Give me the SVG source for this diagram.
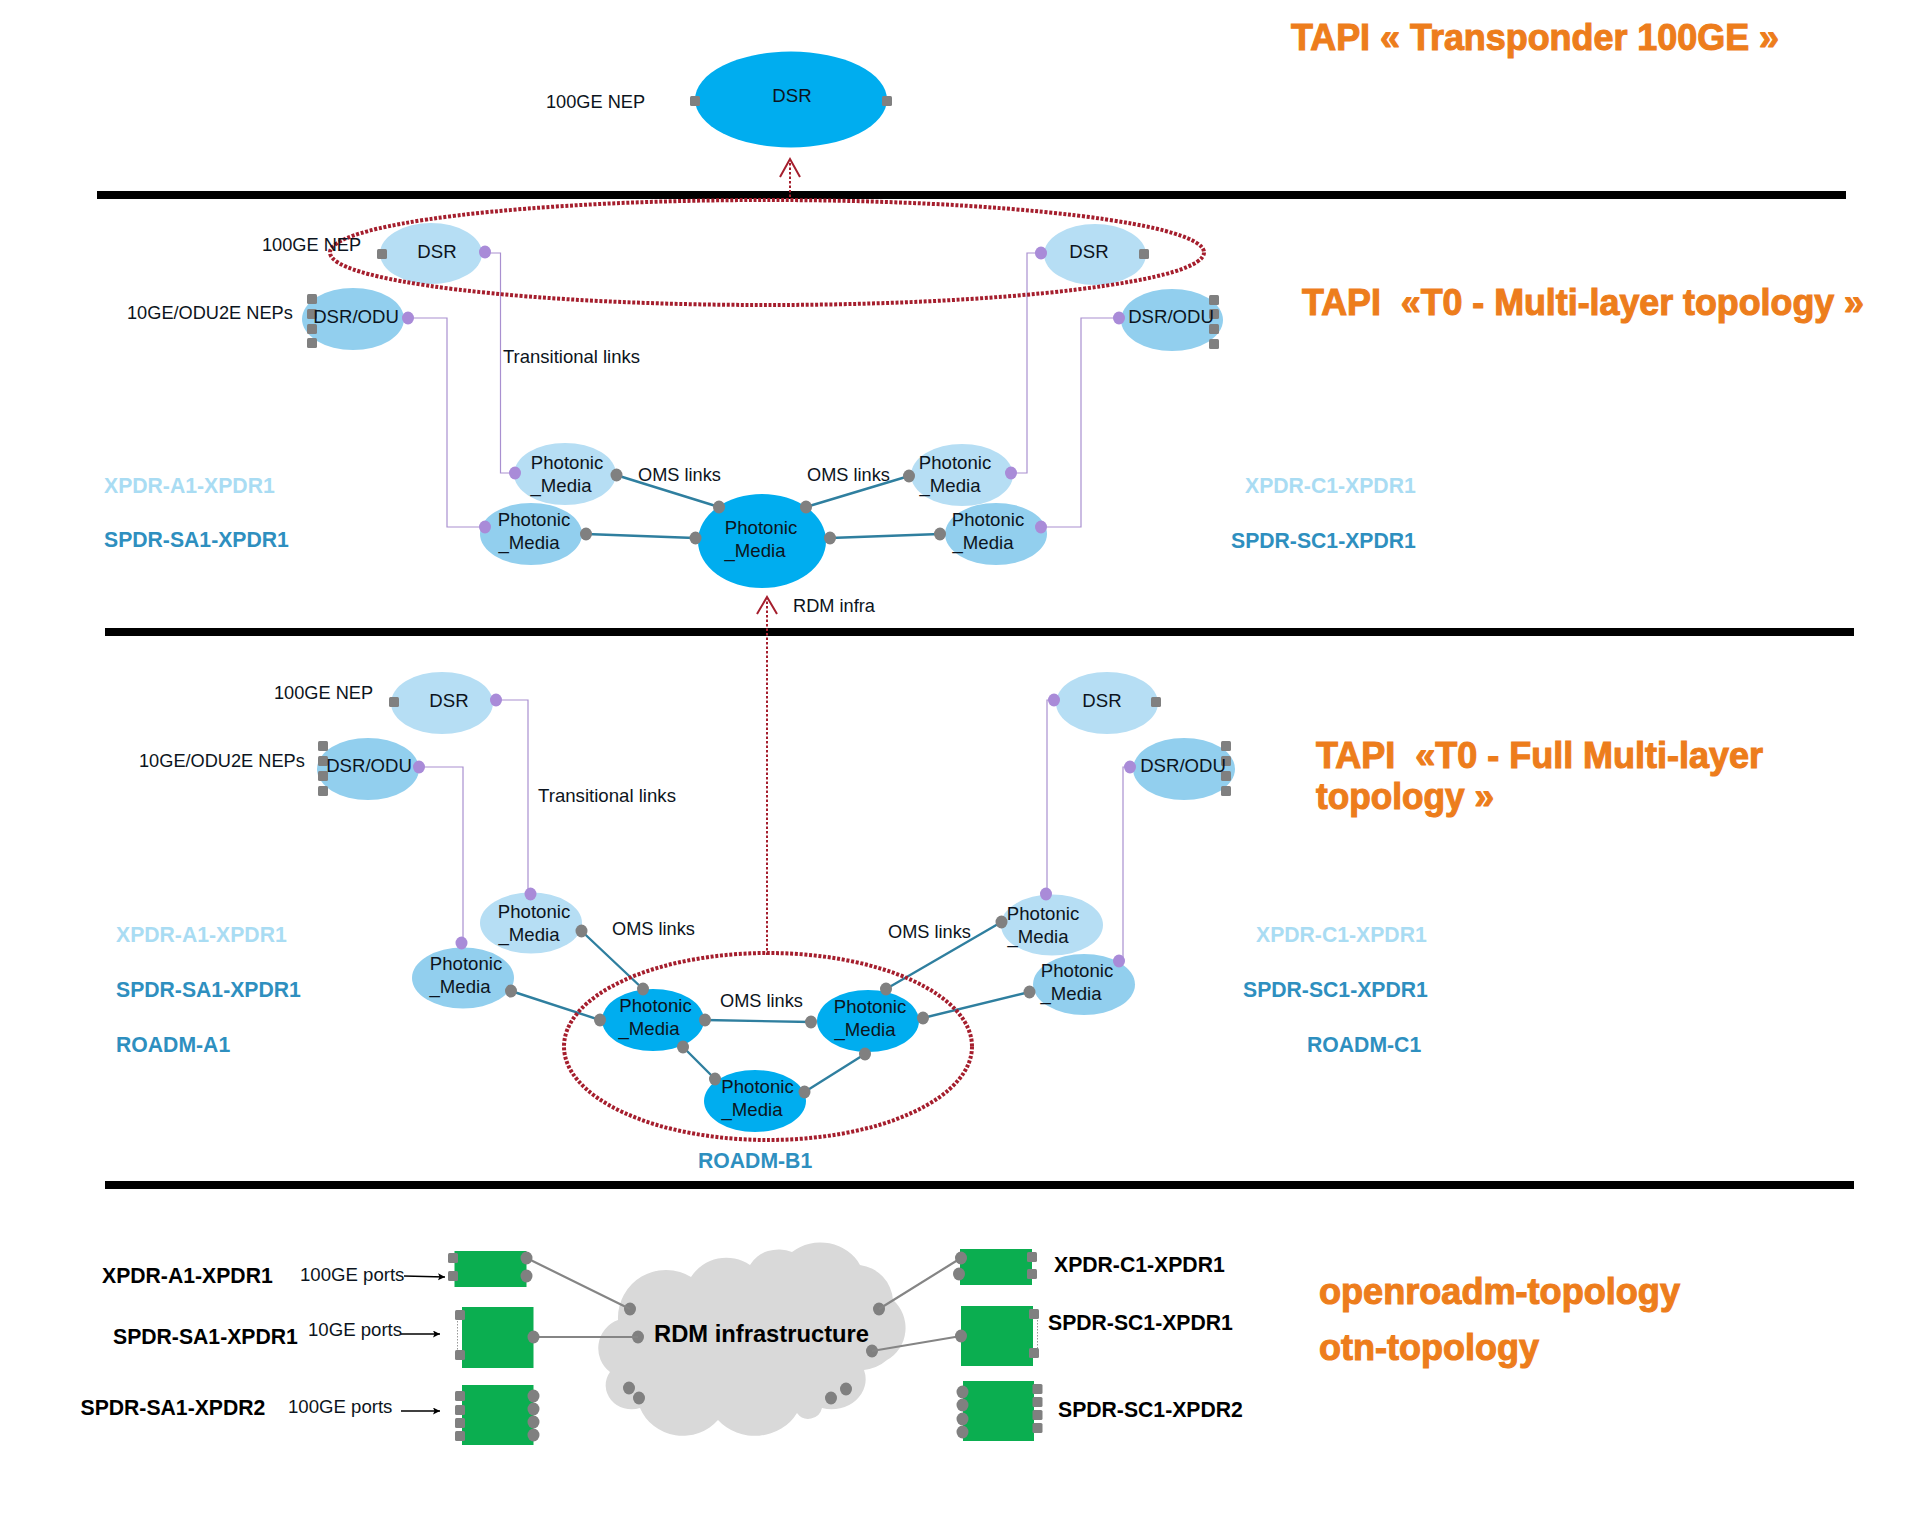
<svg xmlns="http://www.w3.org/2000/svg" width="1920" height="1518" viewBox="0 0 1920 1518">
<style>
text{font-family:"Liberation Sans",Arial,sans-serif;font-size:18.2px;fill:#0c1420}
.m{text-anchor:middle;font-size:18.600px}
.p{font-size:18.600px}
.t{font-weight:bold;font-size:36px;fill:#ED7D1C;stroke:#ED7D1C;stroke-width:1.1}
.lt{font-weight:bold;font-size:21.200px;fill:#A9DCF3}
.db{font-weight:bold;font-size:21.200px;fill:#2E8FBF}
.bk{font-weight:bold;font-size:21.200px;fill:#000}
.sep{stroke:#000;stroke-width:8;fill:none}
.dot{fill:none;stroke:#A51E2D;stroke-width:4;stroke-dasharray:3 1.700}
.up{fill:none;stroke:#A51E2D;stroke-width:2;stroke-dasharray:2.500 2}
.ah{fill:none;stroke:#A51E2D;stroke-width:2}
.tr{fill:none;stroke:#A990D0;stroke-width:1.200}
.oms{fill:none;stroke:#2F7F9F;stroke-width:2.400}
.g{fill:none;stroke:#858585;stroke-width:2.200}
.ar{fill:none;stroke:#000;stroke-width:1.300}
.th{fill:none;stroke:#999;stroke-width:1;stroke-dasharray:1.500 1.500}
.e0{fill:#00ADEF}.e1{fill:#B6DEF4}.e2{fill:#92CFEE}
.pp{fill:#A98BD8}.gr{fill:#808080}
.sq{fill:#808080}
.gb{fill:#0BAE50}
.cl{fill:#D9D9D9}
</style>
<defs>
<marker id="tip" markerWidth="8" markerHeight="8" refX="7" refY="3.500" orient="auto" markerUnits="userSpaceOnUse"><path d="M0 0L7 3.500L0 7L1.500 3.500Z" fill="#000"/></marker>
<rect id="s" x="-5" y="-5" width="10" height="10" rx="1.500" class="sq"/>
<ellipse id="c" rx="6" ry="6.500" class="gr"/>
<ellipse id="v" rx="6" ry="6.500" class="pp"/>
</defs>

<g id="separators">
<line class="sep" x1="97" y1="195" x2="1846" y2="195"/>
<line class="sep" x1="105" y1="632" x2="1854" y2="632"/>
<line class="sep" x1="105" y1="1185" x2="1854" y2="1185"/>
</g>

<g id="titles">
<text class="t" x="1291" y="50" textLength="488" lengthAdjust="spacingAndGlyphs">TAPI « Transponder 100GE »</text>
<text class="t" x="1302" y="315" textLength="562" lengthAdjust="spacingAndGlyphs" xml:space="preserve">TAPI  «T0 - Multi-layer topology »</text>
<text class="t" x="1316" y="768" textLength="447" lengthAdjust="spacingAndGlyphs" xml:space="preserve">TAPI  «T0 - Full Multi-layer</text>
<text class="t" x="1316" y="809" textLength="178" lengthAdjust="spacingAndGlyphs">topology »</text>
<text class="t" x="1319" y="1304" textLength="361" lengthAdjust="spacingAndGlyphs">openroadm-topology</text>
<text class="t" x="1319" y="1360" textLength="220" lengthAdjust="spacingAndGlyphs">otn-topology</text>
</g>

<g id="rdm-cloud">
<path class="cl" d="M618 1320A48 48 0 0 1 691 1277A42 42 0 0 1 750 1265A32 28 0 0 1 792 1252A44 40 0 0 1 860 1265A38 38 0 0 1 893 1300A34 36 0 0 1 887 1360A40 30 0 0 1 864 1370A34 30 0 0 1 822 1408A14 14 0 0 1 797 1413A48 44 0 0 1 718 1420A46 44 0 0 1 640 1408A26 24 0 0 1 610 1372A30 30 0 0 1 618 1320Z"/>
<use href="#c" x="630" y="1309"/><use href="#c" x="638" y="1337"/><use href="#c" x="879" y="1309"/><use href="#c" x="872" y="1351"/>
<use href="#c" x="629" y="1388"/><use href="#c" x="639" y="1398"/><use href="#c" x="846" y="1389"/><use href="#c" x="831" y="1398"/>
<text x="654" y="1342" style="font-weight:bold;font-size:24px;fill:#000" textLength="215" lengthAdjust="spacingAndGlyphs">RDM infrastructure</text>
</g>

<g id="connectors">
<path class="up" d="M790 197V161"/><path class="ah" d="M780 177L790 159L800 177"/>
<path class="up" d="M767 955V599"/><path class="ah" d="M757 614L767 597L777 614"/>
<path class="tr" d="M485 253H500.500V473H515"/>
<path class="tr" d="M408 318H447V527H485"/>
<path class="tr" d="M1041 253H1027V473H1011"/>
<path class="tr" d="M1119 318H1081V527H1041"/>
<path class="oms" d="M616 475L719 507M586 534L695 538M806 507L909 476M830 538L940 534"/>
<path class="tr" d="M496 700H528V894"/>
<path class="tr" d="M419 767H463V943"/>
<path class="tr" d="M1054 700H1047V894"/>
<path class="tr" d="M1130 767H1123V958L1119 961"/>
<path class="oms" d="M581.500 931L643 989M511 991L600 1020M705 1020L811 1022M683 1047L715 1079M804.500 1092L865 1054M886 989L1001.500 922M923 1018L1029.500 992"/>
<path class="g" d="M526.500 1258L630 1309M533.500 1337H638M879 1309L961 1258M872 1351L961 1336"/>
<path class="ar" marker-end="url(#tip)" d="M404 1276L445 1277"/>
<path class="ar" marker-end="url(#tip)" d="M401 1334H440"/>
<path class="ar" marker-end="url(#tip)" d="M401 1411H440"/>
<path class="th" d="M457.500 1315V1355M1037.500 1314V1353"/>
</g>

<g id="tapi-dsr"><ellipse class="e0" cx="791" cy="99.500" rx="96" ry="48"/><use href="#s" x="695" y="101"/><use href="#s" x="887" y="101"/><text class="m" x="792" y="102">DSR</text></g>
<g id="lbl-top"><text x="546" y="108">100GE NEP</text></g>

<g id="t0-dsr-a"><ellipse class="e1" cx="431" cy="253.500" rx="51" ry="30.500"/><use href="#s" x="382" y="254"/><use href="#v" x="485" y="252"/><text class="m" x="437" y="258">DSR</text></g>
<g id="t0-dsr-c"><ellipse class="e1" cx="1095" cy="254.500" rx="51" ry="30.500"/><use href="#s" x="1144" y="254"/><use href="#v" x="1041" y="253"/><text class="m" x="1089" y="258">DSR</text></g>
<g id="t0-odu-a"><ellipse class="e2" cx="353" cy="319" rx="51" ry="31"/><use href="#s" x="312" y="299"/><use href="#s" x="312" y="314"/><use href="#s" x="312" y="329"/><use href="#s" x="312" y="343"/><use href="#v" x="408" y="318"/><text class="m" x="356" y="323">DSR/ODU</text></g>
<g id="t0-odu-c"><ellipse class="e2" cx="1172" cy="320" rx="51" ry="31"/><use href="#s" x="1214" y="300"/><use href="#s" x="1214" y="314"/><use href="#s" x="1214" y="329"/><use href="#s" x="1214" y="344"/><use href="#v" x="1119" y="318"/><text class="m" x="1171" y="323">DSR/ODU</text></g>
<g id="t0-pm-a"><ellipse class="e1" cx="565" cy="474" rx="51" ry="31"/><use href="#v" x="515" y="473"/><use href="#c" x="616.500" y="475"/><text class="m" x="567" y="469">Photonic</text><text class="m" x="561" y="492">_Media</text></g>
<g id="t0-pm-sa"><ellipse class="e2" cx="531" cy="534" rx="51" ry="31"/><use href="#v" x="485" y="527"/><use href="#c" x="586" y="534"/><text class="m" x="534" y="526">Photonic</text><text class="m" x="529" y="549">_Media</text></g>
<g id="t0-pm-b"><ellipse class="e0" cx="762" cy="541" rx="64" ry="47"/><use href="#c" x="719" y="507"/><use href="#c" x="806" y="507"/><use href="#c" x="695.500" y="538"/><use href="#c" x="830" y="538"/><text class="m" x="761" y="534">Photonic</text><text class="m" x="755" y="557">_Media</text></g>
<g id="t0-pm-c"><ellipse class="e1" cx="962" cy="475" rx="51" ry="31"/><use href="#c" x="909" y="476"/><use href="#v" x="1011" y="473"/><text class="m" x="955" y="469">Photonic</text><text class="m" x="950" y="492">_Media</text></g>
<g id="t0-pm-sc"><ellipse class="e2" cx="996" cy="534" rx="51" ry="31"/><use href="#c" x="940" y="534"/><use href="#v" x="1041" y="527"/><text class="m" x="988" y="526">Photonic</text><text class="m" x="983" y="549">_Media</text></g>

<g id="full-dsr-a"><ellipse class="e1" cx="442" cy="703" rx="51" ry="31"/><use href="#s" x="394" y="702"/><use href="#v" x="496" y="700"/><text class="m" x="449" y="707">DSR</text></g>
<g id="full-dsr-c"><ellipse class="e1" cx="1107" cy="703" rx="51" ry="31"/><use href="#s" x="1156" y="702"/><use href="#v" x="1054" y="700"/><text class="m" x="1102" y="707">DSR</text></g>
<g id="full-odu-a"><ellipse class="e2" cx="368" cy="769" rx="51" ry="31"/><use href="#s" x="323" y="746"/><use href="#s" x="323" y="761"/><use href="#s" x="323" y="776"/><use href="#s" x="323" y="791"/><use href="#v" x="419" y="767"/><text class="m" x="369" y="772">DSR/ODU</text></g>
<g id="full-odu-c"><ellipse class="e2" cx="1184" cy="769" rx="51" ry="31"/><use href="#s" x="1226" y="746"/><use href="#s" x="1226" y="761"/><use href="#s" x="1226" y="776"/><use href="#s" x="1226" y="791"/><use href="#v" x="1130" y="767"/><text class="m" x="1183" y="772">DSR/ODU</text></g>
<g id="full-pm-a"><ellipse class="e1" cx="531" cy="923" rx="51" ry="30.500"/><use href="#v" x="530.500" y="894"/><use href="#c" x="581.500" y="931"/><text class="m" x="534" y="918">Photonic</text><text class="m" x="529" y="941">_Media</text></g>
<g id="full-pm-sa"><ellipse class="e2" cx="463" cy="978" rx="51" ry="30.500"/><use href="#v" x="461.500" y="943"/><use href="#c" x="511" y="991"/><text class="m" x="466" y="970">Photonic</text><text class="m" x="460" y="993">_Media</text></g>
<g id="full-pm-l"><ellipse class="e0" cx="653" cy="1020" rx="51" ry="31"/><use href="#c" x="643" y="989"/><use href="#c" x="600" y="1020"/><use href="#c" x="705" y="1020"/><use href="#c" x="683" y="1047"/><text class="m" x="655.500" y="1012">Photonic</text><text class="m" x="649" y="1035">_Media</text></g>
<g id="full-pm-r"><ellipse class="e0" cx="868" cy="1021" rx="51" ry="31"/><use href="#c" x="886" y="989"/><use href="#c" x="811" y="1022"/><use href="#c" x="923" y="1018"/><use href="#c" x="865" y="1054"/><text class="m" x="870" y="1013">Photonic</text><text class="m" x="865" y="1036">_Media</text></g>
<g id="full-pm-b"><ellipse class="e0" cx="755" cy="1101" rx="51" ry="31"/><use href="#c" x="715" y="1079"/><use href="#c" x="804.500" y="1092"/><text class="m" x="757.500" y="1093">Photonic</text><text class="m" x="752" y="1116">_Media</text></g>
<g id="full-pm-c"><ellipse class="e1" cx="1052" cy="925" rx="51" ry="30.500"/><use href="#v" x="1046" y="894"/><use href="#c" x="1001.500" y="922"/><text class="m" x="1043" y="920">Photonic</text><text class="m" x="1038" y="943">_Media</text></g>
<g id="full-pm-sc"><ellipse class="e2" cx="1084" cy="984.500" rx="51" ry="30.500"/><use href="#v" x="1119" y="961"/><use href="#c" x="1029.500" y="992"/><text class="m" x="1077" y="977">Photonic</text><text class="m" x="1071" y="1000">_Media</text></g>

<g id="groupings">
<ellipse class="dot" cx="767" cy="252.500" rx="437" ry="52.500"/>
<ellipse class="dot" cx="768" cy="1046.500" rx="204" ry="93.500"/>
</g>

<g id="labels">
<text x="262" y="251">100GE NEP</text>
<text x="127" y="319">10GE/ODU2E NEPs</text>
<text x="503" y="363" textLength="137" lengthAdjust="spacingAndGlyphs">Transitional links</text>
<text x="638" y="481">OMS links</text>
<text x="807" y="481">OMS links</text>
<text x="793" y="612">RDM infra</text>
<text class="lt" x="104" y="493">XPDR-A1-XPDR1</text>
<text class="db" x="104" y="547">SPDR-SA1-XPDR1</text>
<text class="lt" x="1245" y="493">XPDR-C1-XPDR1</text>
<text class="db" x="1231" y="548">SPDR-SC1-XPDR1</text>
<text x="274" y="699">100GE NEP</text>
<text x="139" y="767">10GE/ODU2E NEPs</text>
<text x="538" y="802" textLength="138" lengthAdjust="spacingAndGlyphs">Transitional links</text>
<text x="612" y="935">OMS links</text>
<text x="720" y="1007">OMS links</text>
<text x="888" y="938">OMS links</text>
<text class="lt" x="116" y="942">XPDR-A1-XPDR1</text>
<text class="db" x="116" y="997">SPDR-SA1-XPDR1</text>
<text class="db" x="116" y="1052">ROADM-A1</text>
<text class="lt" x="1256" y="942">XPDR-C1-XPDR1</text>
<text class="db" x="1243" y="997">SPDR-SC1-XPDR1</text>
<text class="db" x="1307" y="1052">ROADM-C1</text>
<text class="db" x="698" y="1168">ROADM-B1</text>
<text class="bk" x="102" y="1283">XPDR-A1-XPDR1</text>
<text class="bk" x="113" y="1344">SPDR-SA1-XPDR1</text>
<text class="bk" x="80.500" y="1415">SPDR-SA1-XPDR2</text>
<text class="p" x="300" y="1281">100GE ports</text>
<text class="p" x="308" y="1336">10GE ports</text>
<text class="p" x="288" y="1413">100GE ports</text>
<text class="bk" x="1054" y="1272">XPDR-C1-XPDR1</text>
<text class="bk" x="1048" y="1330">SPDR-SC1-XPDR1</text>
<text class="bk" x="1058" y="1417">SPDR-SC1-XPDR2</text>
</g>

<g id="dev-xpdr-a1"><rect class="gb" x="454.500" y="1251" width="72" height="36"/><use href="#s" x="453" y="1258"/><use href="#s" x="453" y="1276"/><use href="#c" x="526.500" y="1258"/><use href="#c" x="526.500" y="1276"/></g>
<g id="dev-spdr-sa1-1"><rect class="gb" x="462" y="1307" width="71.500" height="61"/><use href="#s" x="460" y="1315"/><use href="#s" x="460" y="1355"/><use href="#c" x="533.500" y="1337"/></g>
<g id="dev-spdr-sa1-2"><rect class="gb" x="462" y="1385" width="71.500" height="60"/><use href="#s" x="460" y="1396"/><use href="#s" x="460" y="1410"/><use href="#s" x="460" y="1423"/><use href="#s" x="460" y="1436"/><use href="#c" x="533.500" y="1396"/><use href="#c" x="533.500" y="1409"/><use href="#c" x="533.500" y="1422"/><use href="#c" x="533.500" y="1435"/></g>
<g id="dev-xpdr-c1"><rect class="gb" x="960" y="1249" width="72" height="36"/><use href="#c" x="961" y="1258"/><use href="#c" x="959" y="1274"/><use href="#s" x="1032" y="1257"/><use href="#s" x="1032" y="1274"/></g>
<g id="dev-spdr-sc1-1"><rect class="gb" x="961" y="1306" width="72" height="60"/><use href="#c" x="961" y="1336"/><use href="#s" x="1034" y="1314"/><use href="#s" x="1034" y="1353"/></g>
<g id="dev-spdr-sc1-2"><rect class="gb" x="963" y="1381" width="71" height="60"/><use href="#c" x="962.500" y="1392"/><use href="#c" x="962.500" y="1405"/><use href="#c" x="962.500" y="1419"/><use href="#c" x="962.500" y="1432"/><use href="#s" x="1037.500" y="1389"/><use href="#s" x="1037.500" y="1402"/><use href="#s" x="1037.500" y="1415"/><use href="#s" x="1037.500" y="1428"/></g>
</svg>
